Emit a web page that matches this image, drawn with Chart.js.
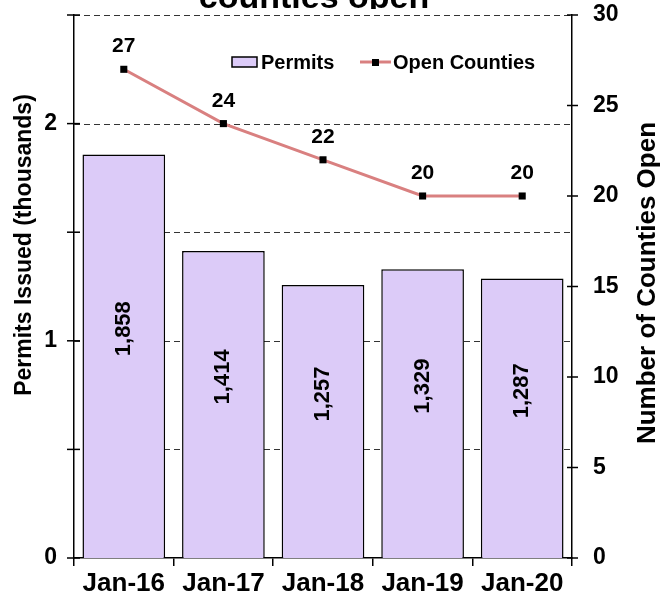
<!DOCTYPE html>
<html>
<head>
<meta charset="utf-8">
<script src="https://cdn.jsdelivr.net/npm/chart.js@4.4.1/dist/chart.umd.min.js"></script>
<style>
  html, body { margin: 0; padding: 0; background: #fff; }
  #wrap { width: 666px; height: 603px; position: relative; }
</style>
</head>
<body>
<div id="wrap"><canvas id="c" width="666" height="603"></canvas></div>
<script>
// ---- Data ----
const categories = ["Jan-16", "Jan-17", "Jan-18", "Jan-19", "Jan-20"];
const permits = [1858, 1414, 1257, 1329, 1287];          // permits issued
const openCounties = [27, 24, 22, 20, 20];               // number of counties open
const leftTicks = [0, 1, 2];                              // labelled left ticks (thousands)
const titleText = "counties open";
const leftTitle = "Permits Issued (thousands)";
const rightTitle = "Number of Counties Open";

const permitsThousands = permits.map(v => v / 1000);

const BAR_FILL = "#DCCBF8";
const LINE_COLOR = "#D98080";
const FONT = "'Liberation Sans', Arial, sans-serif";

const decor = {
  id: "decor",
  beforeDatasetsDraw(chart) {
    const ctx = chart.ctx, a = chart.chartArea, y = chart.scales.y;
    ctx.save();
    ctx.strokeStyle = "#333";
    ctx.lineWidth = 1.2;
    ctx.setLineDash([6, 4]);
    for (let v = 0.5; v <= 2.5001; v += 0.5) {
      const py = Math.round(y.getPixelForValue(v)) + 0.5;
      ctx.beginPath(); ctx.moveTo(a.left, py); ctx.lineTo(a.right, py); ctx.stroke();
    }
    ctx.restore();
  },
  afterDraw(chart) {
    const ctx = chart.ctx, a = chart.chartArea, y = chart.scales.y, y1 = chart.scales.y1;
    ctx.save();
    // crossing ticks
    ctx.strokeStyle = "#000"; ctx.lineWidth = 1.5; ctx.setLineDash([]);
    for (let v = 0; v <= 2.5001; v += 0.5) {
      const py = y.getPixelForValue(v);
      ctx.beginPath(); ctx.moveTo(a.left - 7, py); ctx.lineTo(a.left + 6, py); ctx.stroke();
    }
    for (let v = 0; v <= 30; v += 5) {
      const py = y1.getPixelForValue(v);
      ctx.beginPath(); ctx.moveTo(a.right - 5, py); ctx.lineTo(a.right + 6, py); ctx.stroke();
    }
    // bar labels
    const barMeta = chart.getDatasetMeta(0);
    ctx.fillStyle = "#000";
    ctx.font = "bold 22px " + FONT;
    barMeta.data.forEach((bar, i) => {
      const mid = (bar.y + bar.base) / 2;
      ctx.save();
      ctx.translate(bar.x, mid);
      ctx.rotate(-Math.PI / 2);
      ctx.textAlign = "left"; ctx.textBaseline = "middle";
      ctx.fillText(permits[i].toLocaleString("en-US"), 0, 0);
      ctx.restore();
    });
    // line labels
    const lineMeta = chart.getDatasetMeta(1);
    ctx.font = "bold 21px " + FONT;
    ctx.textAlign = "center"; ctx.textBaseline = "alphabetic";
    lineMeta.data.forEach((pt, i) => {
      ctx.fillText(String(openCounties[i]), pt.x, pt.y - 17);
    });
    // legend
    const ly = 62;
    ctx.fillStyle = BAR_FILL; ctx.strokeStyle = "#000"; ctx.lineWidth = 1.5;
    ctx.fillRect(232, ly - 5, 25, 10); ctx.strokeRect(232, ly - 5, 25, 10);
    ctx.fillStyle = "#000"; ctx.textAlign = "left"; ctx.textBaseline = "middle";
    ctx.font = "bold 20px " + FONT;
    ctx.fillText("Permits", 261, ly + 1);
    ctx.strokeStyle = LINE_COLOR; ctx.lineWidth = 3;
    ctx.beginPath(); ctx.moveTo(360, ly); ctx.lineTo(391, ly); ctx.stroke();
    ctx.fillStyle = "#000"; ctx.fillRect(372, ly - 3, 7, 7);
    ctx.fillText("Open Counties", 393, ly + 1);
    // axis titles
    ctx.textAlign = "center"; ctx.textBaseline = "middle";
    ctx.font = "bold 23px " + FONT;
    ctx.save(); ctx.translate(25, 245); ctx.rotate(-Math.PI / 2); ctx.fillText(leftTitle, 0, 0); ctx.restore();
    ctx.font = "bold 26px " + FONT;
    ctx.save(); ctx.translate(648, 283); ctx.rotate(-Math.PI / 2); ctx.fillText(rightTitle, 0, 0); ctx.restore();
    // clipped title
    ctx.save();
    ctx.beginPath(); ctx.rect(0, 0, 666, 9); ctx.clip();
    ctx.font = "bold 34px " + FONT;
    ctx.textAlign = "center"; ctx.textBaseline = "alphabetic";
    ctx.fillText(titleText, 314, 8);
    ctx.restore();
    ctx.restore();
  }
};

function noPadY(s, w) { s.width = w; s.paddingTop = 0; s.paddingBottom = 0; }

new Chart(document.getElementById("c"), {
  data: {
    labels: categories,
    datasets: [
      {
        type: "bar", label: "Permits", data: permitsThousands, yAxisID: "y",
        backgroundColor: BAR_FILL, borderColor: "#000", borderWidth: 1.5,
        barPercentage: 0.83, categoryPercentage: 1.0, order: 2
      },
      {
        type: "line", label: "Open Counties", data: openCounties, yAxisID: "y1",
        borderColor: LINE_COLOR, borderWidth: 3, tension: 0,
        pointStyle: "rect", pointRadius: 5, pointBackgroundColor: "#000",
        pointBorderColor: "#000", pointBorderWidth: 0, order: 1
      }
    ]
  },
  options: {
    responsive: false, animation: false, devicePixelRatio: 1,
    layout: { padding: { top: 15, left: 0, right: 0, bottom: 0 } },
    plugins: { legend: { display: false }, tooltip: { enabled: false } },
    scales: {
      x: {
        offset: true,
        grid: { display: true, offset: true, drawOnChartArea: false, drawTicks: true, tickLength: 8, color: "#000", lineWidth: 1.5 },
        border: { display: true, color: "#000", width: 1.5 },
        ticks: { color: "#000", font: { family: FONT, size: 26, weight: "bold" }, padding: 2, maxRotation: 0 },
        afterFit(s) { s.height = 45; s.paddingLeft = 0; s.paddingRight = 0; }
      },
      y: {
        position: "left", min: 0, max: 2.5,
        grid: { display: false, drawTicks: false },
        border: { display: true, color: "#000", width: 1.5 },
        ticks: {
          stepSize: 0.5, padding: 17, color: "#000",
          font: { family: FONT, size: 23, weight: "bold" },
          callback: v => leftTicks.includes(v) ? String(v) : ""
        },
        afterFit(s) { noPadY(s, 74); }
      },
      y1: {
        position: "right", min: 0, max: 30,
        grid: { display: false, drawTicks: false },
        border: { display: true, color: "#000", width: 1.5 },
        ticks: { stepSize: 5, padding: 21, color: "#000", font: { family: FONT, size: 23, weight: "bold" } },
        afterFit(s) { noPadY(s, 94); }
      }
    }
  },
  plugins: [decor]
});
</script>
</body>
</html>
